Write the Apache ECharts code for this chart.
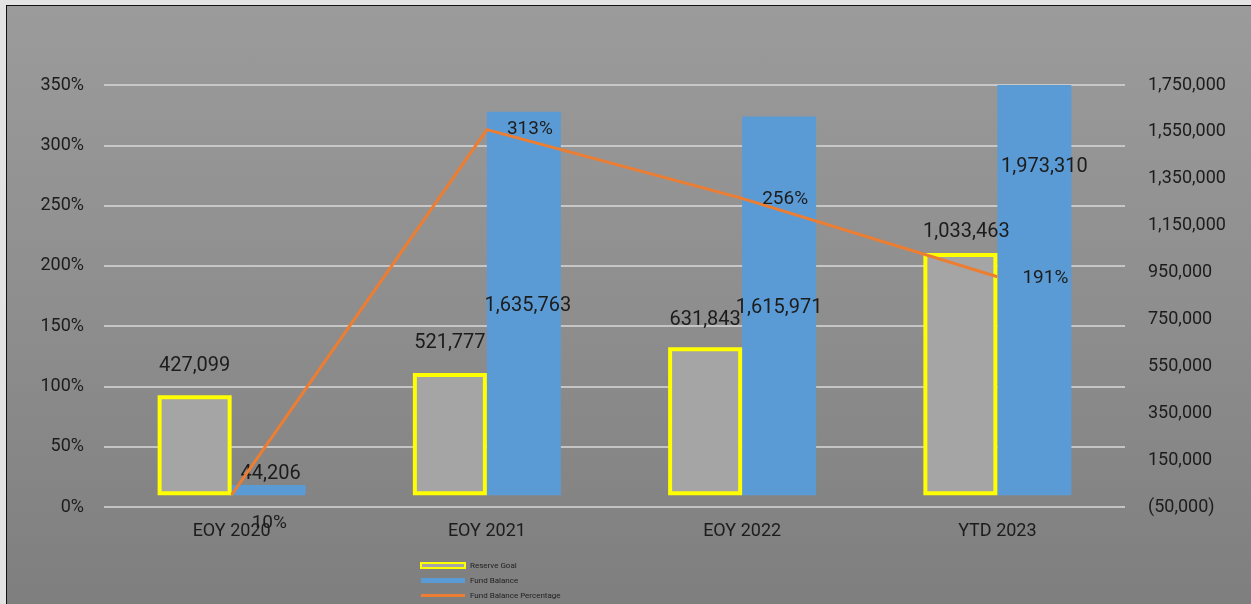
<!DOCTYPE html>
<html>
<head>
<meta charset="utf-8">
<script src="https://cdn.jsdelivr.net/npm/echarts@6/dist/echarts.min.js"></script>
<style>
  html, body { margin: 0; padding: 0; background: #e3e3e3; }
  #bg { position: absolute; left: 6px; top: 5px; width: 1260px; height: 610px;
        border-left: 1.5px solid #111; border-top: 1.5px solid #111;
        background: linear-gradient(to bottom, #9b9b9b 0%, #8e8e8e 50%, #7e7e7e 100%); }
  #chart { position: absolute; left: 0; top: 0; width: 1251px; height: 604px; }
</style>
</head>
<body>
<div id="bg"></div>
<div id="chart"></div>
<script>
const categories = ['EOY 2020', 'EOY 2021', 'EOY 2022', 'YTD 2023'];
const reserveGoal = [427099, 521777, 631843, 1033463];
const fundBalance = [44206, 1635763, 1615971, 1973310];
const fundBalancePct = [10, 313, 256, 191];

const fmt = v => Math.abs(v).toLocaleString('en-US');
const FONT = 'Roboto';
const TXT = '#1c1c1c';

// label tweaks (styling only)
const reserveLabelDist = [19, 20, 17, 11];
const fundLabelCfg = [
  { position: 'top', distance: 1, offset: [2, 0] },
  { position: 'inside', offset: [4, 2] },
  { position: 'inside', offset: [0, 2] },
  { position: 'inside', offset: [10, -123] }
];
const pctLabelOffset = [[0, 28], [0, 0], [0, 1], [5, 2]];

const chart = echarts.init(document.getElementById('chart'), null, { renderer: 'canvas' });

chart.setOption({
  backgroundColor: 'transparent',
  animation: false,
  textStyle: { fontFamily: FONT, color: TXT },
  grid: { left: 104, right: 126, top: 85, bottom: 97, containLabel: false },
  legend: {
    orient: 'vertical',
    left: 420,
    top: 561,
    padding: 0,
    itemWidth: 44,
    itemHeight: 5,
    itemGap: 6,
    textStyle: { fontFamily: FONT, fontSize: 8, color: '#222', lineHeight: 9 },
    data: [
      { name: 'Reserve Goal', icon: 'rect', itemStyle: { color: '#a5a5a5', borderColor: '#ffff00', borderWidth: 2 } },
      { name: 'Fund Balance', icon: 'rect' },
      { name: 'Fund Balance Percentage', icon: 'path://M0,0h44v3h-44z' }
    ]
  },
  xAxis: {
    type: 'category',
    data: categories,
    axisLine: { show: false },
    axisTick: { show: false },
    axisLabel: { fontFamily: FONT, fontSize: 18, color: TXT, margin: 15 }
  },
  yAxis: [
    {
      type: 'value',
      min: 0, max: 350, interval: 50,
      axisLine: { show: false },
      axisTick: { show: false },
      axisLabel: { formatter: '{value}%', fontFamily: FONT, fontSize: 18, color: TXT, margin: 20 },
      splitLine: { show: true, lineStyle: { color: '#d9d9d9', width: 1.5 } }
    },
    {
      type: 'value',
      min: -50000, max: 1750000, interval: 200000,
      position: 'right',
      axisLine: { show: false },
      axisTick: { show: false },
      splitLine: { show: false },
      axisLabel: {
        formatter: v => v < 0 ? '(' + fmt(v) + ')' : fmt(v),
        fontFamily: FONT, fontSize: 18, color: TXT, margin: 23
      }
    }
  ],
  series: [
    {
      name: 'Reserve Goal',
      type: 'bar',
      yAxisIndex: 1,
      barWidth: 74,
      barGap: '0%',
      itemStyle: { color: '#a5a5a5', borderColor: '#ffff00', borderWidth: 4 },
      data: reserveGoal.map((v, i) => ({
        value: v,
        label: { distance: reserveLabelDist[i], offset: i === 3 ? [6, 0] : [0, 0] }
      })),
      label: {
        show: true, position: 'top',
        formatter: p => fmt(p.value),
        fontFamily: FONT, fontSize: 20, color: TXT
      },
      z: 4
    },
    {
      name: 'Fund Balance',
      type: 'bar',
      yAxisIndex: 1,
      barWidth: 74,
      barGap: '0%',
      clip: true,
      itemStyle: { color: '#5b9bd5' },
      data: fundBalance.map((v, i) => ({ value: v, label: fundLabelCfg[i] })),
      label: {
        show: true,
        formatter: p => fmt(p.value),
        fontFamily: FONT, fontSize: 20, color: TXT
      },
      z: 3
    },
    {
      name: 'Fund Balance Percentage',
      type: 'line',
      yAxisIndex: 0,
      symbol: 'circle',
      symbolSize: 0,
      showSymbol: true,
      lineStyle: { color: '#ed7d31', width: 3 },
      itemStyle: { color: '#ed7d31' },
      data: fundBalancePct.map((v, i) => ({ value: v, label: { offset: pctLabelOffset[i] } })),
      label: {
        show: true, position: 'right', distance: 20,
        formatter: p => p.value + '%',
        fontFamily: FONT, fontSize: 19, color: TXT
      },
      z: 5
    }
  ]
});
</script>
</body>
</html>
